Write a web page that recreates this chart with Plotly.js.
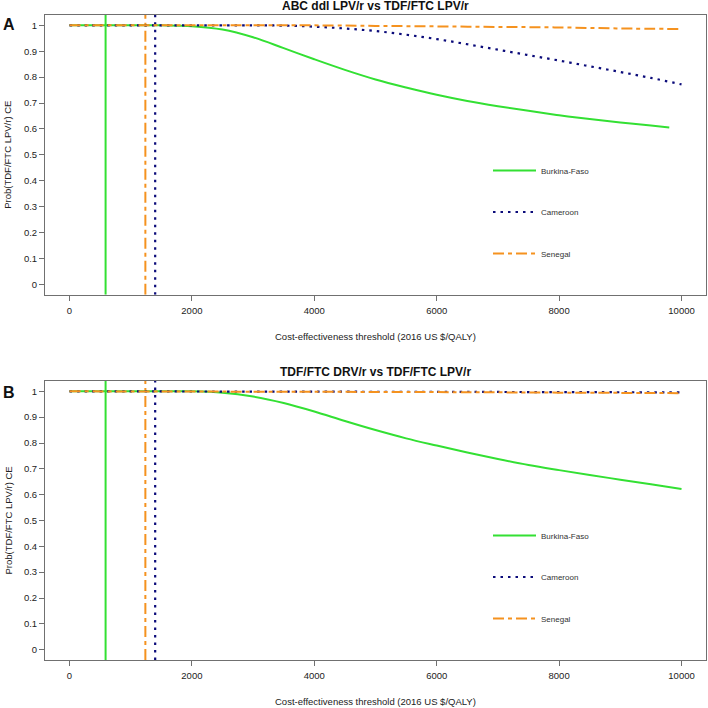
<!DOCTYPE html>
<html>
<head>
<meta charset="utf-8">
<script src="https://cdn.plot.ly/plotly-3.0.1.min.js"></script>
<style>html,body{margin:0;padding:0;background:#fff;}#chart{width:708px;height:708px;}</style>
</head>
<body>
<div id="chart"></div>
<script>
// ---- Data ----
const countries = ['Burkina-Faso', 'Cameroon', 'Senegal'];
// GDP-per-capita thresholds (vertical reference lines), US$
const thresholds = [590, 1400, 1240];

// Panel A: ABC ddl LPV/r vs TDF/FTC LPV/r
const aBurkinaX = [0, 1000, 1500, 2000, 2500, 3000, 3500, 4000, 4500, 5000, 5500, 6000, 6500, 7000, 7500, 8000, 8500, 9000, 9500, 9800];
const aBurkinaY = [1, 1, 1, 0.997, 0.984, 0.954, 0.912, 0.869, 0.828, 0.791, 0.760, 0.732, 0.708, 0.688, 0.670, 0.653, 0.638, 0.625, 0.613, 0.606];
const aCameroonX = [0, 1000, 2000, 3000, 3500, 4000, 4500, 5000, 5500, 6000, 6500, 7000, 7500, 8000, 8500, 9000, 9500, 10000];
const aCameroonY = [1, 1, 1, 1, 0.999, 0.995, 0.988, 0.978, 0.964, 0.947, 0.927, 0.906, 0.885, 0.864, 0.842, 0.820, 0.797, 0.772];
const aSenegalX = [0, 4000, 5000, 6000, 7000, 8000, 9000, 10000];
const aSenegalY = [1, 1, 0.998, 0.996, 0.994, 0.992, 0.988, 0.986];

// Panel B: TDF/FTC DRV/r vs TDF/FTC LPV/r
const bBurkinaX = [0, 1000, 1500, 2000, 2500, 3000, 3500, 4000, 4500, 5000, 5500, 6000, 6500, 7000, 7500, 8000, 8500, 9000, 9500, 10000];
const bBurkinaY = [1, 1, 1, 1, 0.995, 0.980, 0.955, 0.922, 0.885, 0.850, 0.818, 0.790, 0.763, 0.738, 0.715, 0.695, 0.676, 0.658, 0.640, 0.622];
const bCameroonX = [0, 6000, 8000, 10000];
const bCameroonY = [1, 0.998, 0.997, 0.996];
const bSenegalX = [0, 6000, 8000, 10000];
const bSenegalY = [1, 0.997, 0.995, 0.993];

const xTickVals = [0, 2000, 4000, 6000, 8000, 10000];
const xTickText = ['0', '2000', '4000', '6000', '8000', '10000'];
const yTickVals = [0, 0.1, 0.2, 0.3, 0.4, 0.5, 0.6, 0.7, 0.8, 0.9, 1];
const yTickText = ['0', '0.1', '0.2', '0.3', '0.4', '0.5', '0.6', '0.7', '0.8', '0.9', '1'];

const titleA = 'ABC ddl LPV/r vs TDF/FTC LPV/r';
const titleB = 'TDF/FTC DRV/r vs TDF/FTC LPV/r';
const xTitle = 'Cost-effectiveness threshold (2016 US $/QALY)';
const yTitle = 'Prob(TDF/FTC LPV/r) CE';

// ---- Styles ----
const W = 708, H = 708;
const px = v => v / W;
const py = v => 1 - v / H;
const styles = [
  {color: '#33e033', width: 2, dash: 'solid'},
  {color: '#0b0b7a', width: 2.2, dash: '2.5px,5px'},
  {color: '#f5921f', width: 2, dash: '11px,4px,4px,4px'}
];
const yRange = [-0.04, 1.04];

function panelTraces(xa, ya, legendId, series) {
  const out = [];
  thresholds.forEach((t, i) => {
    out.push({
      type: 'scatter', mode: 'lines', xaxis: xa, yaxis: ya,
      x: [t, t], y: yRange, showlegend: false, hoverinfo: 'skip',
      line: Object.assign({}, styles[i])
    });
  });
  series.forEach((s, i) => {
    out.push({
      type: 'scatter', mode: 'lines', xaxis: xa, yaxis: ya,
      x: s[0], y: s[1], name: countries[i], legend: legendId,
      legendgroup: legendId + i,
      line: Object.assign({shape: 'spline', smoothing: 1}, styles[i])
    });
  });
  return out;
}

const data = [].concat(
  panelTraces('x', 'y', 'legend', [[aBurkinaX, aBurkinaY], [aCameroonX, aCameroonY], [aSenegalX, aSenegalY]]),
  panelTraces('x2', 'y2', 'legend2', [[bBurkinaX, bBurkinaY], [bCameroonX, bCameroonY], [bSenegalX, bSenegalY]])
);

const font = {family: '"Liberation Sans", Arial, sans-serif', size: 9.5, color: '#222'};
function xAxis() {
  return {
    domain: [px(45), px(706)], range: [-400, 10400], showgrid: false, zeroline: false,
    showline: true, mirror: true, linecolor: '#707070', linewidth: 1,
    ticks: 'outside', ticklen: 5, tickcolor: '#707070', tickwidth: 1,
    tickvals: xTickVals, ticktext: xTickText, ticklabelstandoff: 2,
    tickfont: font, fixedrange: true
  };
}
function yAxis(top, bottom) {
  return {
    domain: [py(bottom), py(top)], range: yRange, showgrid: false, zeroline: false,
    showline: true, mirror: true, linecolor: '#707070', linewidth: 1,
    ticks: 'outside', ticklen: 5, tickcolor: '#707070', tickwidth: 1,
    tickvals: yTickVals, ticktext: yTickText, tickfont: font, fixedrange: true
  };
}
const legendBase = {
  xanchor: 'left', yanchor: 'top', bgcolor: 'rgba(0,0,0,0)', borderwidth: 0,
  font: {family: font.family, size: 8, color: '#333'}, traceorder: 'grouped',
  tracegroupgap: 22.5, itemwidth: 43, itemclick: false, itemdoubleclick: false
};

const ann = (text, x, y, opts) => Object.assign({
  text: text, x: x, y: y, xref: 'paper', yref: 'paper', showarrow: false,
  xanchor: 'center', yanchor: 'middle', font: font
}, opts || {});

const layout = {
  width: W, height: H, margin: {l: 0, r: 0, t: 0, b: 0},
  paper_bgcolor: '#fff', plot_bgcolor: '#fff', font: font,
  xaxis: Object.assign(xAxis(), {anchor: 'y'}),
  yaxis: Object.assign(yAxis(15, 294.7), {anchor: 'x'}),
  xaxis2: Object.assign(xAxis(), {anchor: 'y2'}),
  yaxis2: Object.assign(yAxis(381, 660), {anchor: 'x2'}),
  legend: Object.assign({}, legendBase, {x: px(488), y: py(156)}),
  legend2: Object.assign({}, legendBase, {x: px(488), y: py(521)}),
  annotations: [
    ann('<b>' + titleA + '</b>', px(375.5), py(6), {font: {family: font.family, size: 12, color: '#111'}}),
    ann('<b>' + titleB + '</b>', px(375.5), py(372.3), {font: {family: font.family, size: 12, color: '#111'}}),
    ann('<b>A</b>', px(8.5), py(24), {font: {family: font.family, size: 16, color: '#111'}}),
    ann('<b>B</b>', px(8.5), py(392), {font: {family: font.family, size: 16, color: '#111'}}),
    ann(yTitle, px(8), py(154.8), {textangle: -90}),
    ann(yTitle, px(8), py(520.5), {textangle: -90}),
    ann(xTitle, px(375.5), py(336)),
    ann(xTitle, px(375.5), py(701.7))
  ],
  showlegend: true
};

Plotly.newPlot('chart', data, layout, {displayModeBar: false, staticPlot: true});
</script>
</body>
</html>
